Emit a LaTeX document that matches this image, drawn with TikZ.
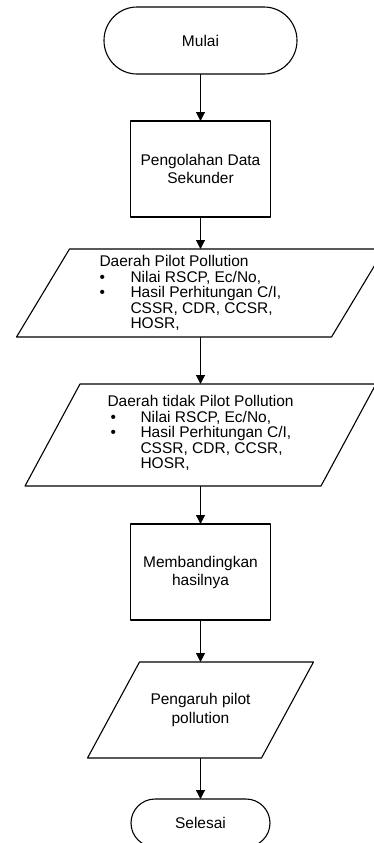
\documentclass[tikz,border=0pt]{standalone}
\usepackage{fontspec}
\setmainfont{Liberation Sans}
\usetikzlibrary{arrows.meta}

\begin{document}
\begin{tikzpicture}[x=0.5pt,y=-0.5pt,>={Triangle[length=4.5pt,width=4.5pt]},
  font=\fontsize{7.75}{9}\selectfont,line width=0.55pt,line join=round,
  blank/.style={inner sep=0pt,outer sep=0pt,align=center},
  procbox/.style={blank,draw,minimum width=70pt,minimum height=48pt},
  listtext/.style={anchor=west,inner sep=0pt,align=left,font=\fontsize{7.75}{7.75}\selectfont}]
\useasboundingbox (0,0) rectangle (374,843);
% terminal
\node[blank,minimum width=96.5pt,minimum height=33.5pt] (mulai) at (200.5,40.5) {Mulai};
\draw ([xshift=16.5pt]mulai.north west) -- ([xshift=-16.5pt]mulai.north east)
  arc[start angle=90,end angle=-90,x radius=16.5pt,y radius=16.75pt]
  -- ([xshift=16.5pt]mulai.south west)
  arc[start angle=270,end angle=90,x radius=16.5pt,y radius=16.75pt] -- cycle;
% proses
\node[procbox] (olah) at (200.5,169) {Pengolahan Data\\Sekunder};
% daerah pilot pollution
\node[blank,minimum width=157.5pt,minimum height=44pt] (pilot) at (200.5,293) {};
\draw ([xshift=13.25pt]pilot.north west) -- ([xshift=13.25pt]pilot.north east)
  -- ([xshift=-13.25pt]pilot.south east) -- ([xshift=-13.25pt]pilot.south west) -- cycle;
\node[listtext] (pilottxt) at (99,293) {Daerah Pilot Pollution\\
  \makebox[15.5pt][l]{\textbullet}Nilai RSCP, Ec/No,\\
  \makebox[15.5pt][l]{\textbullet}Hasil Perhitungan C/I,\\
  \hspace*{15.5pt}CSSR, CDR, CCSR,\\
  \hspace*{15.5pt}HOSR,};
% daerah tidak pilot pollution
\node[blank,minimum width=148pt,minimum height=51pt] (nonpilot) at (200.5,435) {};
\draw ([xshift=13.75pt]nonpilot.north west) -- ([xshift=13.75pt]nonpilot.north east)
  -- ([xshift=-13.75pt]nonpilot.south east) -- ([xshift=-13.75pt]nonpilot.south west) -- cycle;
\node[listtext] (nonpilottxt) at (107,433) {Daerah tidak Pilot Pollution\\
  \makebox[16.5pt][l]{\hspace{1.5pt}\textbullet}Nilai RSCP, Ec/No,\\
  \makebox[16.5pt][l]{\hspace{1.5pt}\textbullet}Hasil Perhitungan C/I,\\
  \hspace*{16.5pt}CSSR, CDR, CCSR,\\
  \hspace*{16.5pt}HOSR,};
% proses
\node[procbox] (banding) at (200.5,572) {Membandingkan\\hasilnya};
% hasil
\node[blank,minimum width=87pt,minimum height=48pt,font=\fontsize{7.75}{9.5}\selectfont] (pengaruh) at (200.5,710) {Pengaruh pilot\\pollution};
\draw ([xshift=13pt]pengaruh.north west) -- ([xshift=13pt]pengaruh.north east)
  -- ([xshift=-13pt]pengaruh.south east) -- ([xshift=-13pt]pengaruh.south west) -- cycle;
% terminal
\node[blank,minimum width=69.5pt,minimum height=24pt] (selesai) at (200.5,823) {Selesai};
\draw ([xshift=12pt]selesai.north west) -- ([xshift=-12pt]selesai.north east)
  arc[start angle=90,end angle=-90,x radius=12pt,y radius=12pt]
  -- ([xshift=12pt]selesai.south west)
  arc[start angle=270,end angle=90,x radius=12pt,y radius=12pt] -- cycle;
% alur
\draw[->] (mulai) -- (olah);
\draw[->] (olah) -- (pilot);
\draw[->] (pilot) -- (nonpilot);
\draw[->] (nonpilot) -- (banding);
\draw[->] (banding) -- (pengaruh);
\draw[->] (pengaruh) -- (selesai);
\end{tikzpicture}
\end{document}
